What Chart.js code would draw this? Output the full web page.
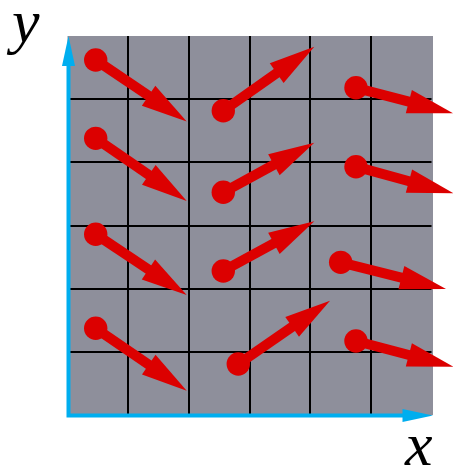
<!DOCTYPE html>
<html>
<head>
<meta charset="utf-8">
<script src="https://cdn.jsdelivr.net/npm/chart.js@4"></script>
<style>
  html, body { margin: 0; padding: 0; background: #fff; }
  canvas { display: block; }
</style>
</head>
<body>
<canvas id="fieldChart" width="453" height="469"></canvas>
<script>
// vector tails (the dots) and tips, in grid units (0..6 both ways)
const tailX = [0.465, 2.568, 4.755, 0.465, 2.568, 4.755, 0.465, 2.568, 4.503, 0.465, 2.815, 4.755];
const tailY = [5.62, 4.817, 5.18, 4.38, 3.526, 3.931, 2.861, 2.28, 2.417, 1.373, 0.807, 1.171];
const tipX = [1.965, 4.068, 6.36, 1.965, 4.068, 6.36, 1.965, 4.068, 6.239, 1.965, 4.327, 6.36];
const tipY = [4.646, 5.831, 4.776, 3.388, 4.311, 3.51, 1.9, 3.066, 1.995, 0.385, 1.81, 0.765];
const gridTicks = [0, 1, 2, 3, 4, 5, 6];
const axisLabels = ['x', 'y'];

const RED = '#dc0000';
const BLUE = '#00aeef';
const GREY = '#8e8f9b';

function drawArrow(ctx, x0, y0, x1, y1) {
    const dx = x1 - x0, dy = y1 - y0;
    const len = Math.hypot(dx, dy);
    const ux = dx / len, uy = dy / len;
    const headLen = 46, halfW = 12;
    const bx = x1 - ux * headLen, by = y1 - uy * headLen;
    ctx.strokeStyle = RED;
    ctx.fillStyle = RED;
    ctx.lineWidth = 10;
    ctx.beginPath();
    ctx.moveTo(x0, y0);
    ctx.lineTo(bx + ux * 3, by + uy * 3);
    ctx.stroke();
    ctx.beginPath();
    ctx.moveTo(x1, y1);
    ctx.lineTo(bx - uy * halfW, by + ux * halfW);
    ctx.lineTo(bx + uy * halfW, by - ux * halfW);
    ctx.closePath();
    ctx.fill();
}

const fieldPlugin = {
    id: 'field',
    beforeDraw(chart) {
        const { ctx, chartArea: a } = chart;
        ctx.save();
        ctx.fillStyle = GREY;
        ctx.fillRect(a.left, a.top, a.right - a.left + 1.5, a.bottom - a.top);
        ctx.restore();
    },
    afterDatasetsDraw(chart) {
        const { ctx, chartArea: a } = chart;
        const xs = chart.scales.x, ys = chart.scales.y;
        ctx.save();
        for (let i = 0; i < tailX.length; i++) {
            drawArrow(ctx,
                xs.getPixelForValue(tailX[i]), ys.getPixelForValue(tailY[i]),
                xs.getPixelForValue(tipX[i]), ys.getPixelForValue(tipY[i]));
        }

        // blue axes with arrow heads
        const ox = xs.getPixelForValue(0) + 1;
        const oy = ys.getPixelForValue(0) + 0.5;
        ctx.strokeStyle = BLUE;
        ctx.fillStyle = BLUE;
        ctx.lineWidth = 4;
        ctx.beginPath();
        ctx.moveTo(ox, oy + 2);
        ctx.lineTo(ox, a.top + 29);
        ctx.moveTo(ox - 2, oy);
        ctx.lineTo(a.right - 28, oy);
        ctx.stroke();
        ctx.beginPath();
        ctx.moveTo(ox, a.top);
        ctx.lineTo(ox - 6.5, a.top + 30);
        ctx.lineTo(ox + 6.5, a.top + 30);
        ctx.closePath();
        ctx.fill();
        ctx.beginPath();
        ctx.moveTo(a.right + 1.5, oy);
        ctx.lineTo(a.right - 29, oy - 6.5);
        ctx.lineTo(a.right - 29, oy + 6.5);
        ctx.closePath();
        ctx.fill();

        ctx.fillStyle = '#000';
        ctx.font = 'italic 62px "Liberation Serif", "DejaVu Serif", serif';
        ctx.textBaseline = 'alphabetic';
        ctx.fillText(axisLabels[1], 12, 42);
        ctx.fillText(axisLabels[0], 405, 465);
        ctx.restore();
    }
};

const gridColor = (c) => (c.tick && c.tick.value > 0 && c.tick.value < 6) ? '#000' : 'rgba(0,0,0,0)';

new Chart(document.getElementById('fieldChart'), {
    type: 'scatter',
    data: {
        datasets: [{
            data: tailX.map((x, i) => ({ x: x, y: tailY[i] })),
            backgroundColor: RED,
            borderWidth: 0,
            pointRadius: 11.7,
            pointHoverRadius: 11.7,
            clip: false
        }]
    },
    options: {
        responsive: false,
        animation: false,
        events: [],
        layout: { padding: { left: 67.5, right: 21.5, top: 36, bottom: 54 } },
        plugins: {
            legend: { display: false },
            tooltip: { enabled: false }
        },
        scales: {
            x: {
                type: 'linear', min: 0, max: 6,
                afterBuildTicks: (s) => { s.ticks = gridTicks.map(v => ({ value: v })); },
                ticks: { display: false },
                grid: { color: gridColor, lineWidth: 2, drawTicks: false },
                border: { display: false }
            },
            y: {
                type: 'linear', min: 0, max: 6,
                afterBuildTicks: (s) => { s.ticks = gridTicks.map(v => ({ value: v })); },
                ticks: { display: false },
                grid: { color: gridColor, lineWidth: 2, drawTicks: false },
                border: { display: false }
            }
        }
    },
    plugins: [fieldPlugin]
});
</script>
</body>
</html>
